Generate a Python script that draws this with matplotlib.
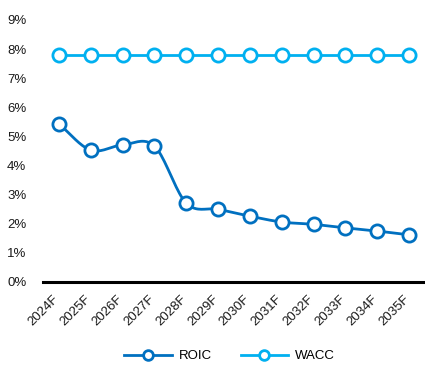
import numpy as np
import matplotlib.pyplot as plt
from matplotlib.transforms import ScaledTranslation

plt.rcParams['font.family'] = ['Liberation Sans', 'DejaVu Sans']

years = ['2024F', '2025F', '2026F', '2027F', '2028F', '2029F',
         '2030F', '2031F', '2032F', '2033F', '2034F', '2035F']
roic = [5.43, 4.53, 4.71, 4.67, 2.71, 2.50, 2.26, 2.06, 1.98, 1.86, 1.75, 1.62]
wacc = [7.8] * 12


def smooth(x, y, n=20):
    # Catmull-Rom spline through the points, like a smoothed line in a spreadsheet
    x = np.asarray(x, float)
    y = np.asarray(y, float)
    px = np.concatenate([[2 * x[0] - x[1]], x, [2 * x[-1] - x[-2]]])
    py = np.concatenate([[2 * y[0] - y[1]], y, [2 * y[-1] - y[-2]]])
    xs, ys = [], []
    t = np.linspace(0, 1, n)
    for i in range(1, len(px) - 2):
        for p, out in ((px, xs), (py, ys)):
            p0, p1, p2, p3 = p[i - 1], p[i], p[i + 1], p[i + 2]
            out.extend(0.5 * ((2 * p1) + (-p0 + p2) * t
                              + (2 * p0 - 5 * p1 + 4 * p2 - p3) * t ** 2
                              + (-p0 + 3 * p1 - 3 * p2 + p3) * t ** 3))
    return np.array(xs), np.array(ys)


fig = plt.figure(figsize=(4.25, 3.65), dpi=100)
ax = fig.add_axes([43 / 425, 1 - 282 / 365, 1 - 43 / 425, (282 - 20) / 365])

x = np.arange(len(years))
for vals, color, name in ((roic, '#0070C0', 'ROIC'), (wacc, '#00B0F0', 'WACC')):
    sx, sy = smooth(x, vals)
    ax.plot(sx, sy, color=color, lw=2, zorder=2)
    ax.plot(x, vals, ls='none', marker='o', ms=9.5, mfc='white',
            mec=color, mew=2, zorder=3)
    ax.plot([], [], color=color, lw=2, marker='o', ms=7, mfc='white',
            mec=color, mew=2, label=name)

ax.set_xlim(-0.5, 11.5)
ax.set_ylim(0, 9)
ax.set_yticks(range(10))
ax.set_yticklabels([f'{i}%' for i in range(10)], fontsize=9.5, color='#1a1a1a')
ax.set_xticks(x)
ax.set_xticklabels(years, rotation=45, ha='right', rotation_mode='anchor',
                   fontsize=9.5, color='#1a1a1a')
ax.tick_params(length=0, pad=8)
ax.tick_params(axis='y', pad=12)
shift = ScaledTranslation(-6 / 100, 0, fig.dpi_scale_trans)
for lbl in ax.get_xticklabels():
    lbl.set_transform(lbl.get_transform() + shift)

for s in ('top', 'right', 'left'):
    ax.spines[s].set_visible(False)
ax.spines['bottom'].set_linewidth(2.2)
ax.spines['bottom'].set_color('black')

fig.legend(loc='lower center', bbox_to_anchor=(0.54, -0.025), ncol=2, frameon=False,
           fontsize=9.5, handlelength=3.6, columnspacing=2.2, handletextpad=0.5)

fig.savefig('out.png', dpi=100)
